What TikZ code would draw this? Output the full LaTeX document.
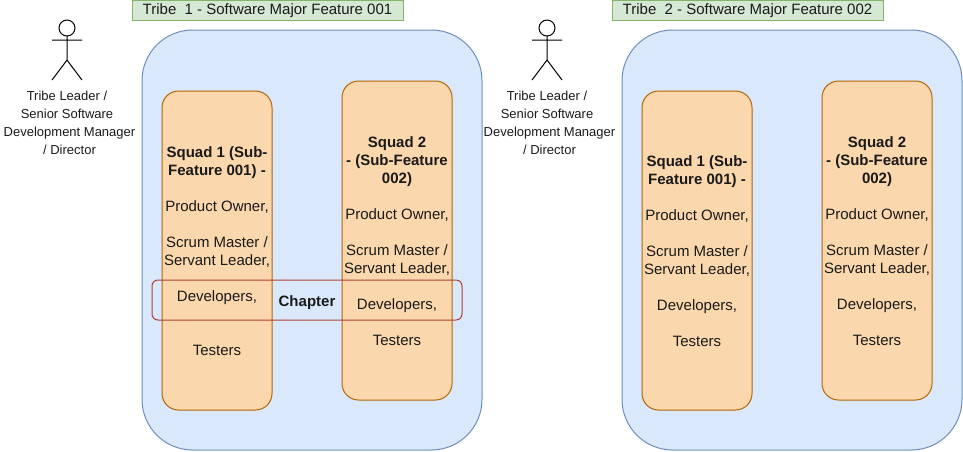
\documentclass[tikz,border=0pt]{standalone}
\usepackage{fontspec}
\setmainfont{Liberation Sans}
\tikzset{
  tribebox/.style={draw=tribeline,fill=tribefill,line width=.75pt,rounded corners=38pt},
  squadbox/.style={draw=squadline,fill=squadfill,line width=.75pt,rounded corners=12.4pt},
  chapterbox/.style={draw=chapterline,line width=.75pt,rounded corners=4.5pt},
  labelbox/.style={draw=labelline,fill=labelfill,line width=.75pt},
  actorline/.style={draw=black,line width=.75pt},
  bodytext/.style={align=center,text=textgrey,font=\fontsize{11.25}{13.5}\selectfont,inner sep=0pt,yshift=-.5pt},
  leadertext/.style={align=center,text=textgrey,font=\fontsize{9.75}{13.5}\selectfont,inner sep=0pt},
  labeltext/.style={text=textgrey,font=\fontsize{11.25}{13.5}\selectfont,inner sep=0pt}
}
\definecolor{tribeline}{HTML}{6C8EBF}
\definecolor{tribefill}{HTML}{DAE8FC}
\definecolor{squadline}{HTML}{B46504}
\definecolor{squadfill}{HTML}{FAD7AC}
\definecolor{chapterline}{HTML}{AE4132}
\definecolor{labelline}{HTML}{82B366}
\definecolor{labelfill}{HTML}{D5E8D4}
\definecolor{textgrey}{HTML}{1A1A1A}
\begin{document}
\begin{tikzpicture}[x=.75pt,y=-.75pt]
\useasboundingbox (0,0) rectangle (963,451);
\draw[labelbox] (132,.5) rectangle node[labeltext] (labelA) {Tribe\ \ 1 - Software Major Feature 001} (403,20);
\draw[labelbox] (612,.5) rectangle node[labeltext] (labelB) {Tribe\ \ 2 - Software Major Feature 002} (883,20);
\draw[tribebox] (142,30) rectangle (482,450);
\draw[tribebox] (622,30) rectangle (962,450);
\draw[squadbox] (162,91) rectangle node[bodytext] (squadA) {\textbf{Squad 1 (Sub-}\\\textbf{Feature 001) -}\\[13.5pt]Product Owner,\\[13.5pt]Scrum Master /\\Servant Leader,\\[13.5pt]Developers,\\[27pt]Testers} (272,410);
\draw[squadbox] (342,81) rectangle node[bodytext] (squadB) {\textbf{Squad 2}\\\textbf{- (Sub-Feature}\\\textbf{002)}\\[13.5pt]Product Owner,\\[13.5pt]Scrum Master /\\Servant Leader,\\[13.5pt]Developers,\\[13.5pt]Testers} (452,400);
\draw[squadbox] (642,91) rectangle node[bodytext] (squadC) {\textbf{Squad 1 (Sub-}\\\textbf{Feature 001) -}\\[13.5pt]Product Owner,\\[13.5pt]Scrum Master /\\Servant Leader,\\[13.5pt]Developers,\\[13.5pt]Testers} (752,410);
\draw[squadbox] (822,81) rectangle node[bodytext] (squadD) {\textbf{Squad 2}\\\textbf{- (Sub-Feature}\\\textbf{002)}\\[13.5pt]Product Owner,\\[13.5pt]Scrum Master /\\Servant Leader,\\[13.5pt]Developers,\\[13.5pt]Testers} (932,400);
\draw[chapterbox] (152,280) rectangle node[bodytext,yshift=-1.5pt] (chapterA) {\textbf{Chapter}} (462,320);
% tribe leaders
\draw[actorline] (67,28) circle (8);
\draw[actorline] (67,36) -- (67,60) (52,40) -- (82,40) (52,80) -- (67,60) -- (82,80);
\node[leadertext] (leaderA) at (67,123) {Tribe Leader /\\Senior Software\\\hspace*{3.75pt}Development Manager\\\hspace*{3.75pt}/ Director};
\draw[actorline] (547,28) circle (8);
\draw[actorline] (547,36) -- (547,60) (532,40) -- (562,40) (532,80) -- (547,60) -- (562,80);
\node[leadertext] (leaderB) at (547,123) {Tribe Leader /\\Senior Software\\\hspace*{3.75pt}Development Manager\\\hspace*{3.75pt}/ Director};
\end{tikzpicture}
\end{document}
